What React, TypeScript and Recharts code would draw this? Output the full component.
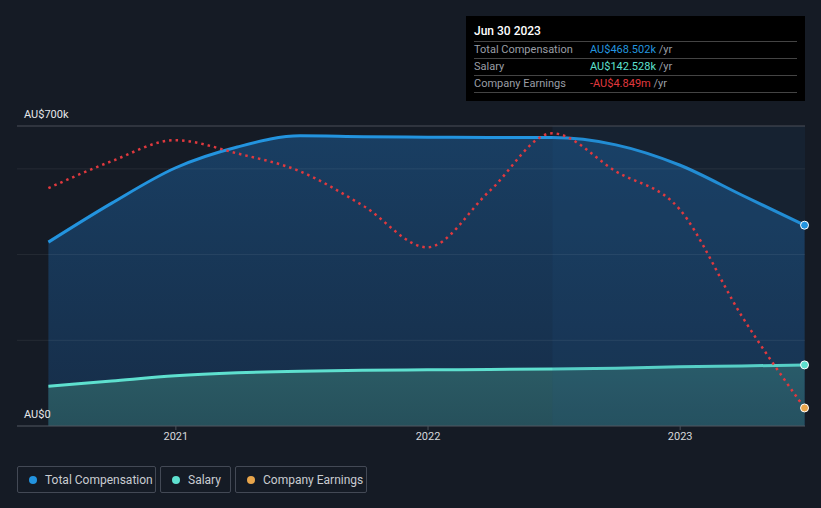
import React from "react";
import {
  ComposedChart,
  Area,
  Line,
  XAxis,
  YAxis,
  ReferenceLine,
  ReferenceArea,
} from "recharts";

const dates = [
  "2020-06-30", "2020-09-30", "2020-12-31", "2021-03-31", "2021-06-30",
  "2021-09-30", "2021-12-31", "2022-03-31", "2022-06-30", "2022-09-30",
  "2022-12-31", "2023-03-31", "2023-06-30",
];
const totalComp = [429, 520, 602, 651, 677, 675, 674, 673, 673, 656, 609, 539, 468.502];
const salary = [93, 105, 117, 124, 128, 130, 131, 132, 133, 135, 138, 140, 142.528];
// company earnings, AU$m (drawn on its own hidden scale)
const earnings = [0.28, 0.91, 1.4, 1.09, 0.67, -0.14, -1.1, 0.21, 1.56, 0.67, -0.21, -2.7, -4.849];
const yearTicks = [2021, 2022, 2023];
const gridValues = [0, 200, 400, 600];

const toYear = (d: string) => {
  const [y, m, day] = d.split("-").map(Number);
  const start = Date.UTC(y, 0, 1);
  const end = Date.UTC(y + 1, 0, 1);
  return y + (Date.UTC(y, m - 1, day) - start) / (end - start);
};

const data = dates.map((d, i) => ({
  t: toYear(d),
  total: totalComp[i],
  salary: salary[i],
  earnings: earnings[i],
}));

const BG = "#151b25";
const BLUE = "#2394df";
const TEAL = "#5ee0cf";
const RED = "#e0393e";
const ORANGE = "#e8a54b";
const FONT = "Roboto, 'Noto Sans', sans-serif";
const last = data.length - 1;

const endDot = (color: string) => (p: any) =>
  p.index === last ? (
    <circle key={p.index} cx={p.cx} cy={p.cy} r={4} fill={color} stroke="#fff" strokeWidth={1} />
  ) : (
    <g key={p.index} />
  );

export default function App() {
  return (
    <div style={{ position: "relative", width: 821, height: 508, background: BG, fontFamily: FONT }}>
      <style>{"body{margin:0}"}</style>
      <ComposedChart
        width={821}
        height={508}
        data={data}
        margin={{ top: 126, right: 16, bottom: 52, left: 17 }}
      >
        <defs>
          <linearGradient id="gTotal" x1="0" y1="0" x2="0" y2="1">
            <stop offset="0%" stopColor="#193e62" />
            <stop offset="100%" stopColor="#162d48" />
          </linearGradient>
          <linearGradient id="gSalary" x1="0" y1="0" x2="0" y2="1">
            <stop offset="0%" stopColor="#2b5b65" />
            <stop offset="100%" stopColor="#26505b" />
          </linearGradient>
        </defs>
        <XAxis
          dataKey="t"
          type="number"
          domain={[2020.37, 2023.495]}
          ticks={yearTicks}
          tickFormatter={(v) => String(v)}
          axisLine={{ stroke: "#4b515a" }}
          tickLine={{ stroke: "#4b515a" }}
          tickSize={4}
          tick={{ fill: "#d6d8dc", fontSize: 11, fontFamily: FONT }}
          height={30}
        />
        <YAxis yAxisId="comp" domain={[0, 700]} hide allowDataOverflow />
        <YAxis yAxisId="earn" domain={[-5.27, 1.73]} hide allowDataOverflow />
        <Area
          yAxisId="comp"
          type="monotone"
          dataKey="total"
          stroke={BLUE}
          strokeWidth={3}
          fill="url(#gTotal)"
          fillOpacity={1}
          dot={endDot(BLUE)}
          activeDot={false}
          isAnimationActive={false}
        />
        <Area
          yAxisId="comp"
          type="monotone"
          dataKey="salary"
          stroke={TEAL}
          strokeWidth={3}
          fill="url(#gSalary)"
          fillOpacity={1}
          dot={endDot(TEAL)}
          activeDot={false}
          isAnimationActive={false}
        />
        {gridValues.map((v) => (
          <ReferenceLine
            key={v}
            yAxisId="comp"
            y={v}
            stroke="#ffffff"
            strokeOpacity={0.07}
            strokeWidth={1}
          />
        ))}
        <ReferenceArea
          yAxisId="comp"
          x1={toYear("2022-06-30")}
          x2={2023.495}
          y1={0}
          y2={700}
          fill="#1d5a8a"
          fillOpacity={0.12}
          stroke="none"
        />
        <Line
          yAxisId="earn"
          type="monotone"
          dataKey="earnings"
          stroke={RED}
          strokeWidth={2.5}
          strokeDasharray="2.5 4"
          dot={endDot(ORANGE)}
          activeDot={false}
          isAnimationActive={false}
        />
        <ReferenceLine
          yAxisId="comp"
          y={700}
          stroke="#4a4f58"
          strokeWidth={1}
          label={(p: any) => (
            <text x={24} y={p.viewBox.y - 8} fill="#e6e7ea" fontSize={11} fontFamily={FONT}>
              AU$700k
            </text>
          )}
        />
        <ReferenceLine
          yAxisId="comp"
          y={0}
          stroke="none"
          label={(p: any) => (
            <text x={24} y={p.viewBox.y - 8} fill="#e6e7ea" fontSize={11} fontFamily={FONT}>
              AU$0
            </text>
          )}
        />
      </ComposedChart>

      <div
        style={{
          position: "absolute",
          left: 466,
          top: 16,
          width: 339,
          height: 85,
          background: "#000",
          boxSizing: "border-box",
          padding: "6px 8px 0 8px",
          fontSize: 11,
        }}
      >
        <div style={{ color: "#fff", fontSize: 12, fontWeight: 500, height: 19, lineHeight: "19px" }}>
          Jun 30 2023
        </div>
        {[
          ["Total Compensation", "AU$468.502k", BLUE],
          ["Salary", "AU$142.528k", TEAL],
          ["Company Earnings", "-AU$4.849m", RED],
        ].map(([label, value, color]) => (
          <div
            key={label}
            style={{
              display: "flex",
              borderTop: "1px solid #444",
              height: 16,
              lineHeight: "16px",
              color: "#9a9ea5",
            }}
          >
            <span style={{ width: 116 }}>{label}</span>
            <span>
              <span style={{ color }}>{value}</span> /yr
            </span>
          </div>
        ))}
        <div style={{ borderTop: "1px solid #444" }} />
      </div>

      <div style={{ position: "absolute", left: 17, top: 466, display: "flex", gap: 4 }}>
        {[
          ["Total Compensation", BLUE, 139],
          ["Salary", TEAL, 71],
          ["Company Earnings", ORANGE, 132],
        ].map(([label, color, w]) => (
          <div
            key={label as string}
            style={{
              width: w as number,
              height: 27,
              boxSizing: "border-box",
              border: "1px solid #434955",
              borderRadius: 2,
              display: "flex",
              alignItems: "center",
              paddingLeft: 11,
              color: "#c9ccd1",
              fontSize: 12,
            }}
          >
            <span
              style={{
                width: 8,
                height: 8,
                borderRadius: "50%",
                background: color as string,
                marginRight: 8,
              }}
            />
            {label}
          </div>
        ))}
      </div>
    </div>
  );
}
